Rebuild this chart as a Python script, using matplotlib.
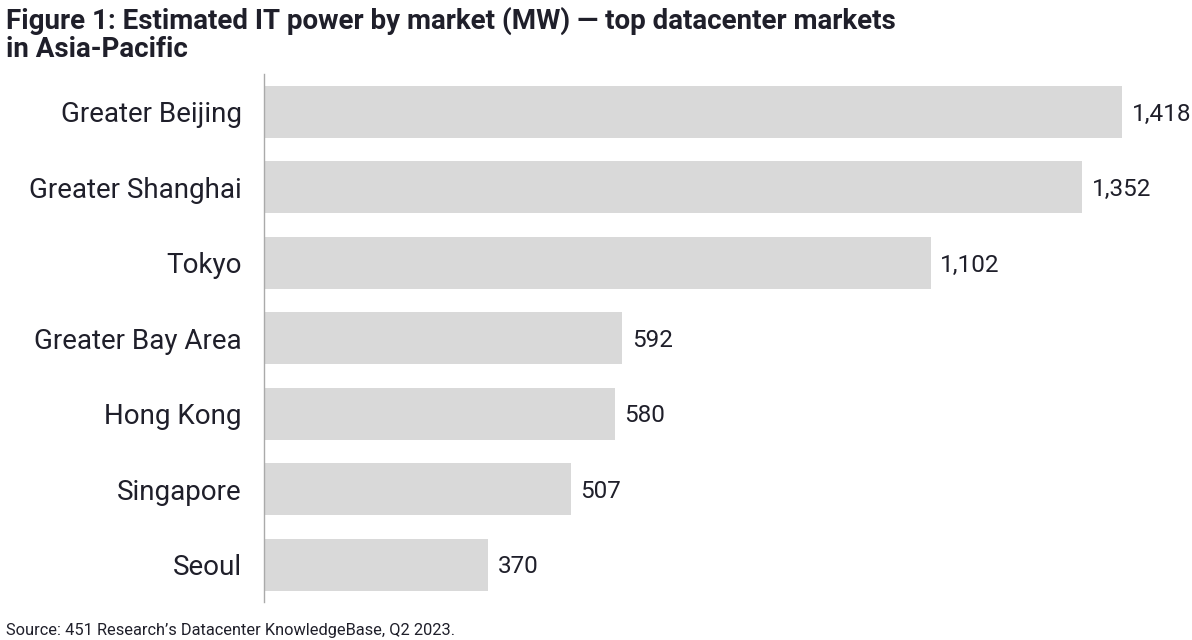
import matplotlib.pyplot as plt

markets = ['Greater Beijing', 'Greater Shanghai', 'Tokyo', 'Greater Bay Area',
           'Hong Kong', 'Singapore', 'Seoul']
power_mw = [1418, 1352, 1102, 592, 580, 507, 370]

plt.rcParams['font.family'] = ['Roboto', 'DejaVu Sans']
text_color = '#1f1f2a'

fig = plt.figure(figsize=(11.92, 6.4), dpi=100)
ax = fig.add_axes([0.2215, 0.059, 0.7785, 0.825])

pos = list(range(len(markets)))
ax.barh(pos, power_mw, height=0.69, color='#d9d9d9')
ax.set_ylim(len(markets) - 0.5, -0.5)
ax.set_xlim(0, 1534)

for p, v in zip(pos, power_mw):
    ax.text(v + 16, p + 0.03, f'{v:,}', va='center', ha='left', fontsize=17.5, color=text_color)

ax.set_yticks(pos)
ax.set_yticklabels(markets, fontsize=20, color=text_color)
ax.tick_params(axis='y', length=0, pad=16)
ax.set_xticks([])
for s in ['top', 'right', 'bottom']:
    ax.spines[s].set_visible(False)
ax.spines['left'].set_color('#aaaaaa')
ax.spines['left'].set_linewidth(1)

fig.text(0.005, 0.99, 'Figure 1: Estimated IT power by market (MW) \u2014 top datacenter markets\nin Asia-Pacific',
         ha='left', va='top', fontsize=20, fontweight='bold', color=text_color, linespacing=1.05)
fig.text(0.005, 0.003, 'Source: 451 Research\u2019s Datacenter KnowledgeBase, Q2 2023.',
         ha='left', va='bottom', fontsize=11.8, color=text_color)

fig.savefig('out.png', dpi=100)
